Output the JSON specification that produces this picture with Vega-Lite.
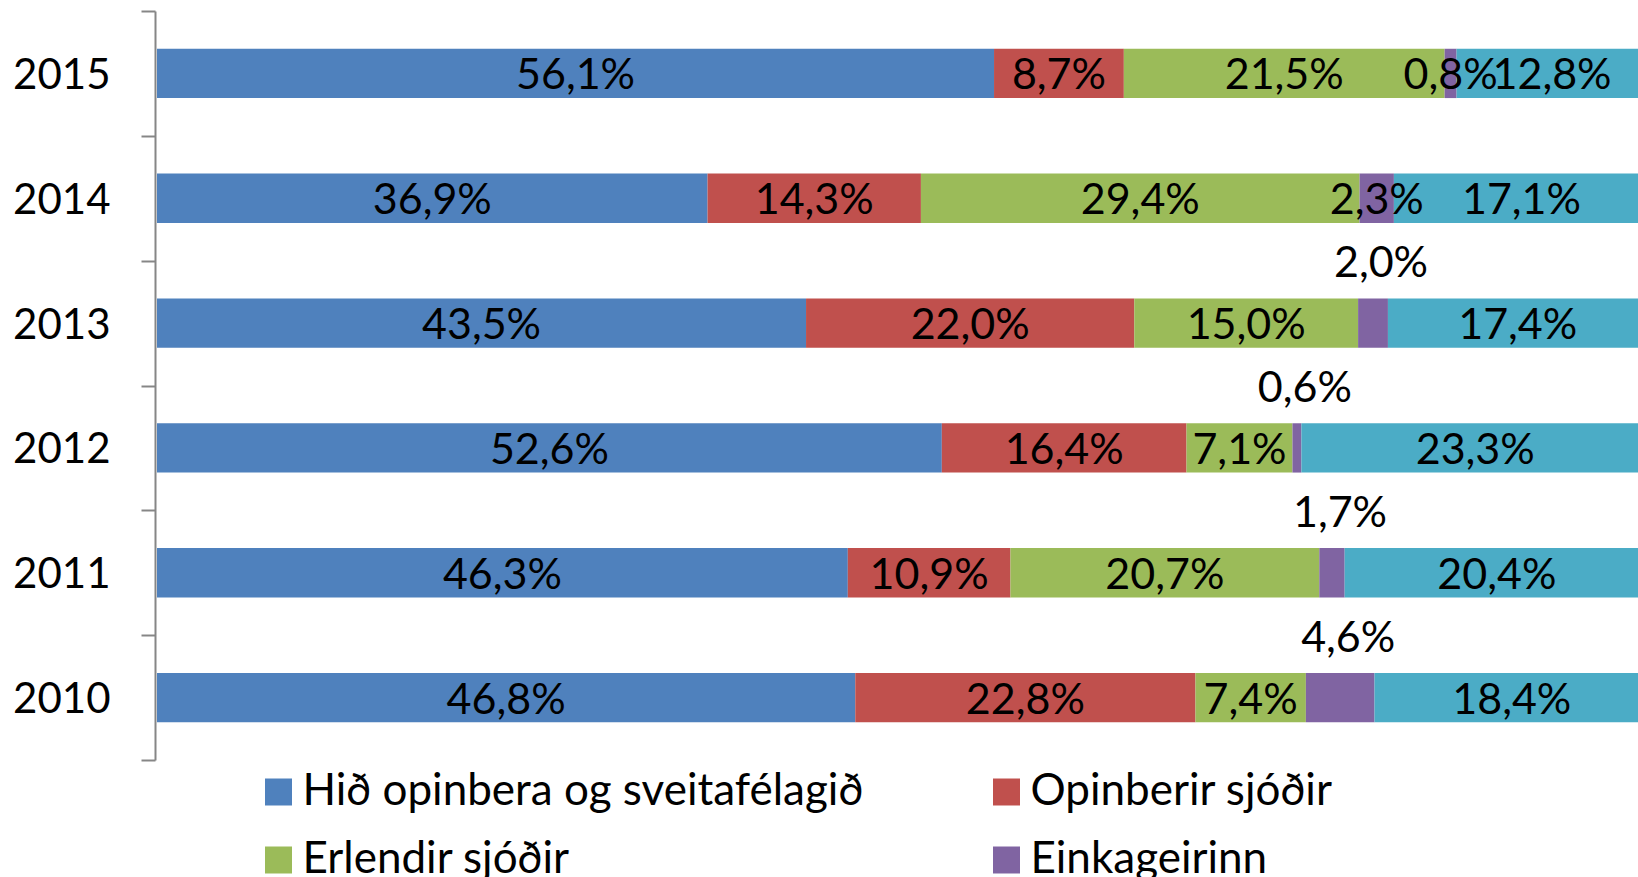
{
  "$schema": "https://vega.github.io/schema/vega-lite/v6.json",
  "autosize": {"type": "none"},
  "width": 1481,
  "height": 749,
  "padding": {"left": 157, "top": 11, "right": 0, "bottom": 117},
  "background": "white",
  "config": {"view": {"stroke": null}, "font": "Lato"},
  "data": {"values": [
    {"year": 2015, "cat": "Hið opinbera og sveitafélagið", "v": 56.1},
    {"year": 2015, "cat": "Opinberir sjóðir", "v": 8.7},
    {"year": 2015, "cat": "Erlendir sjóðir", "v": 21.5},
    {"year": 2015, "cat": "Einkageirinn", "v": 0.8},
    {"year": 2015, "cat": "Annað", "v": 12.8},
    {"year": 2014, "cat": "Hið opinbera og sveitafélagið", "v": 36.9},
    {"year": 2014, "cat": "Opinberir sjóðir", "v": 14.3},
    {"year": 2014, "cat": "Erlendir sjóðir", "v": 29.4},
    {"year": 2014, "cat": "Einkageirinn", "v": 2.3},
    {"year": 2014, "cat": "Annað", "v": 17.1},
    {"year": 2013, "cat": "Hið opinbera og sveitafélagið", "v": 43.5},
    {"year": 2013, "cat": "Opinberir sjóðir", "v": 22.0},
    {"year": 2013, "cat": "Erlendir sjóðir", "v": 15.0},
    {"year": 2013, "cat": "Einkageirinn", "v": 2.0},
    {"year": 2013, "cat": "Annað", "v": 17.4},
    {"year": 2012, "cat": "Hið opinbera og sveitafélagið", "v": 52.6},
    {"year": 2012, "cat": "Opinberir sjóðir", "v": 16.4},
    {"year": 2012, "cat": "Erlendir sjóðir", "v": 7.1},
    {"year": 2012, "cat": "Einkageirinn", "v": 0.6},
    {"year": 2012, "cat": "Annað", "v": 23.3},
    {"year": 2011, "cat": "Hið opinbera og sveitafélagið", "v": 46.3},
    {"year": 2011, "cat": "Opinberir sjóðir", "v": 10.9},
    {"year": 2011, "cat": "Erlendir sjóðir", "v": 20.7},
    {"year": 2011, "cat": "Einkageirinn", "v": 1.7},
    {"year": 2011, "cat": "Annað", "v": 20.4},
    {"year": 2010, "cat": "Hið opinbera og sveitafélagið", "v": 46.8},
    {"year": 2010, "cat": "Opinberir sjóðir", "v": 22.8},
    {"year": 2010, "cat": "Erlendir sjóðir", "v": 7.4},
    {"year": 2010, "cat": "Einkageirinn", "v": 4.6},
    {"year": 2010, "cat": "Annað", "v": 18.4}
  ]},
  "transform": [
    {"calculate": "indexof(['Hið opinbera og sveitafélagið','Opinberir sjóðir','Erlendir sjóðir','Einkageirinn','Annað'], datum.cat)", "as": "k"},
    {"stack": "v", "groupby": ["year"], "sort": [{"field": "k", "order": "ascending"}], "as": ["v0", "v1"]},
    {"calculate": "(datum.v0 + datum.v1) / 2", "as": "mid"},
    {"calculate": "replace(format(datum.v, '.1f'), '.', ',') + '%'", "as": "lab"}
  ],
  "encoding": {
    "y": {
      "field": "year", "type": "ordinal", "sort": "descending",
      "scale": {"paddingInner": 0, "paddingOuter": 0},
      "axis": {
        "title": null, "domainColor": "#868686", "domainWidth": 2,
        "tickColor": "#868686", "tickWidth": 2, "tickSize": 14, "tickBand": "extent",
        "labelFont": "Lato", "labelFontSize": 42, "labelColor": "#000000",
        "labelPadding": 31, "offset": 2, "labelBaseline": "middle", "labelOffset": 2
      }
    }
  },
  "layer": [
    {
      "mark": {"type": "bar", "height": {"band": 0.395}, "clip": true},
      "encoding": {
        "x": {"field": "v0", "type": "quantitative", "scale": {"domain": [0, 99.26], "nice": false, "zero": true}, "axis": null},
        "x2": {"field": "v1"},
        "color": {
          "field": "cat", "type": "nominal",
          "scale": {
            "domain": ["Hið opinbera og sveitafélagið", "Opinberir sjóðir", "Erlendir sjóðir", "Einkageirinn", "Annað"],
            "range": ["#4F81BD", "#C0504D", "#9BBB59", "#8064A2", "#4BACC6"]
          },
          "legend": {
            "title": null, "orient": "none", "legendX": 99.5, "legendY": 759,
            "direction": "horizontal", "columns": 2, "columnPadding": 121, "rowPadding": 24,
            "padding": 0, "symbolType": "square", "symbolSize": 729, "symbolStrokeWidth": 0,
            "labelFont": "Lato", "labelFontSize": 44, "labelColor": "#000000", "labelOffset": 2,
            "labelLimit": 1000
          }
        }
      }
    },
    {
      "transform": [{"filter": "datum.cat != 'Einkageirinn' || datum.year >= 2014"}],
      "mark": {"type": "text", "font": "Lato", "fontSize": 43, "color": "#000000", "baseline": "middle", "align": "center", "dy": 3},
      "encoding": {
        "x": {"field": "mid", "type": "quantitative"},
        "text": {"field": "lab"}
      }
    },
    {
      "transform": [{"filter": "datum.cat == 'Einkageirinn' && datum.year <= 2013"}],
      "mark": {"type": "text", "font": "Lato", "fontSize": 43, "color": "#000000", "baseline": "middle", "align": "center", "dy": -59, "dx": 8},
      "encoding": {
        "x": {"field": "mid", "type": "quantitative"},
        "text": {"field": "lab"}
      }
    }
  ]
}
